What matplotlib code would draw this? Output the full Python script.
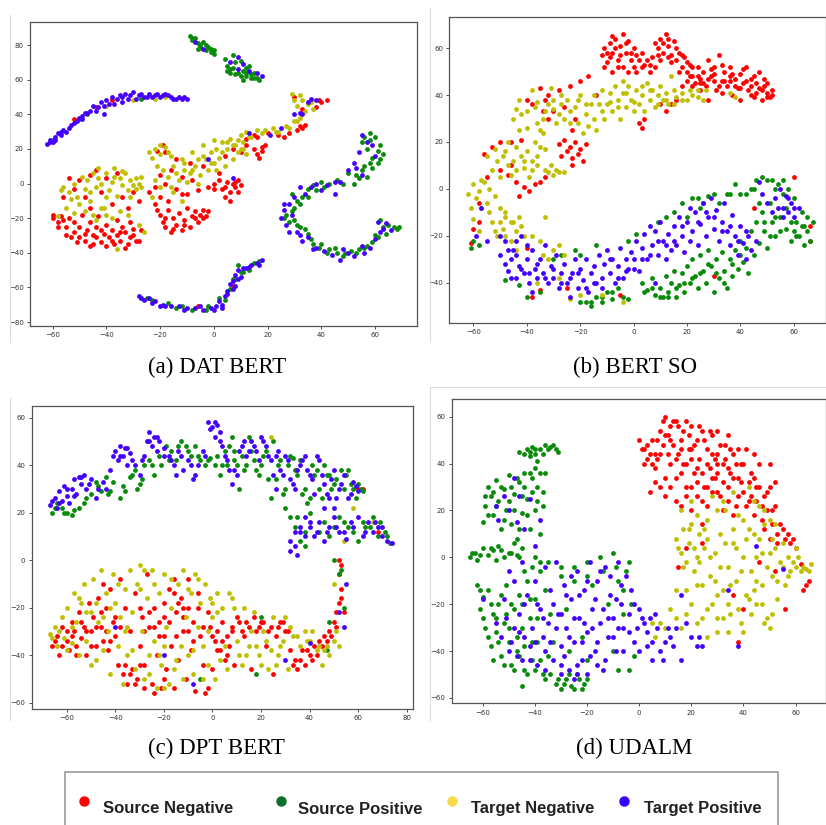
import matplotlib.pyplot as plt
from matplotlib.patches import Rectangle
from matplotlib.lines import Line2D
import numpy as np

# t-SNE の点（図から目で読んだ座標）
# (a) DAT BERT
a_red = [(-60,-18),(-58,-22),(-57,-19),(-55,-25),(-54,-20),(-52,-28),(-52,-22),(-50,-31),(-50,-25),(-49,-18),
         (-48,-33),(-47,-27),(-46,-22),(-45,-35),(-45,-30),(-44,-25),(-43,-19),(-42,-34),(-41,-29),(-40,-36),
         (-40,-24),(-39,-31),(-38,-27),(-37,-35),(-36,-21),(-36,-30),(-35,-33),(-34,-25),(-33,-28),(-32,-35),
         (-31,-22),(-31,-31),(-30,-26),(-29,-33),(-27,-27),(-52,-3),(-50,2),(-48,-8),(-46,5),(-44,8),(-42,-5),
         (-40,3),(-38,-12),(-36,6),(-34,-8),(-32,-14),(-30,-5),(-28,-10),(-56,-8),(-54,3),(-22,-12),(-20,-18),
         (-19,-22),(-18,-25),(-17,-15),(-16,-28),(-15,-20),(-14,-24),(-13,-17),(-12,-27),(-11,-21),(-10,-14),
         (-9,-25),(-8,-19),(-7,-16),(-6,-22),(-5,-18),(-4,-15),(-3,-19),(-20,-8),(-22,-2),(-24,-5),(-20,5),
         (-18,0),(-16,8),(-14,-3),(-12,4),(-10,-6),(-8,2),(-6,-4),(-4,10),(-2,-2),(0,0),(2,2),(3,-3),(5,1),
         (6,-5),(7,0),(8,-2),(9,2),(10,-1),(4,-8),(6,-10),(2,6),(-9,12),(-14,14),(-18,18),(-21,19),(-19,22),
         (4,16),(7,20),(10,18),(12,22),(15,20),(16,17),(17,15),(18,19),(19,22),(12,26),(16,27),(20,29),(26,27),
         (28,29),(31,31),(33,32),(34,34),(30,50),(38,44),(40,47),(42,48),(33,43),(-44,44),(-38,48),(-52,37),
         (-6,-71),(7,-59),
         (-58,-25),(-56,-21),(-53,-31),(-51,-34),(-48,-29),(-46,-36),(-44,-31),(-42,-27),(-38,-33),(-35,-28),
         (-33,-37),(-30,-30),(-28,-33),(-46,-14),(-60,-20),(-55,-30),(-21,-15),(-18,-20),(-15,-26),(-11,-24),
         (-7,-20),(-4,-20),(-2,-16),(0,-3),(4,-2),(8,1),(9,-5),(-17,-10),(-12,-6),(15,28),(24,28),(32,33),
         (39,48),(18,21)]
a_yellow = [(-56,-2),(-54,-5),(-52,0),(-51,-8),(-50,-12),(-48,-3),(-47,2),(-46,-10),(-45,6),(-44,-2),(-43,9),
            (-42,0),(-41,-14),(-40,6),(-39,-4),(-38,1),(-37,9),(-36,-7),(-35,3),(-34,-1),(-33,6),(-32,-4),
            (-31,2),(-30,-1),(-29,3),(-28,0),(-27,4),(-48,-16),(-45,-18),(-42,-14),(-38,-20),(-35,-16),(-32,-18),
            (-28,-24),(-26,-28),(-58,-19),(-55,-14),(-36,-38),(-52,-17),(-22,20),(-20,17),(-18,21),(-16,16),
            (-24,18),(-22,2),(-21,10),(-19,8),(-17,4),(-15,10),(-13,2),(-11,8),(-10,1),(-9,6),(-7,10),(-6,14),
            (-5,5),(-3,14),(-2,8),(-1,18),(0,12),(1,20),(2,15),(3,24),(4,10),(5,20),(6,26),(7,14),(8,22),(9,25),
            (10,20),(11,24),(12,17),(-8,18),(-12,14),(-4,22),(0,25),(-20,-2),(-23,-8),(-15,-5),(-12,-10),(10,28),
            (12,30),(14,27),(16,31),(18,29),(22,32),(24,30),(27,33),(30,36),(32,38),(34,42),(31,45),(29,52),
            (32,51),(35,46),(37,43),(-30,48),(-22,49),(-18,50),(-40,45),
            (-57,-4),(-53,-9),(-49,4),(-46,-5),(-43,3),(-40,-8),(-37,4),(-34,7),(-31,-8),(-29,-3),(-27,-2),
            (-40,-18),(-44,-21),(-23,15),(-20,22),(-17,18),(-14,6),(-11,12),(-8,8),(-4,16),(-1,12),(1,8),(3,18),
            (5,24),(7,22),(9,18),(11,20),(-6,0),(-16,-2),(13,27),(19,31),(23,30),(28,32),(31,36),(33,48),(30,48),
            (36,47)]
a_green = [(-9,85),(-8,83),(-7,84),(-6,81),(-5,80),(-4,82),(-3,77),(-2,79),(-1,76),(0,77),(-6,78),(4,72),(5,68),
           (6,64),(7,67),(8,63),(10,62),(11,65),(12,62),(14,61),(15,64),(17,60),(13,68),(10,71),(7,74),(12,64),
           (16,61),(5,65),(-50,37),(-47,40),(-27,49),(-60,25),(56,27),(58,29),(60,27),(62,22),(63,17),(61,12),
           (59,9),(57,4),(56,10),(59,15),(57,20),(54,3),(50,6),(52,0),(48,0),(43,0),(40,1),(37,-1),(35,-3),
           (33,-8),(31,-10),(30,-14),(27,-18),(28,-22),(30,-21),(32,-25),(34,-26),(36,-32),(37,-35),(40,-35),
           (43,-38),(46,-40),(49,-40),(51,-39),(54,-38),(57,-36),(59,-34),(61,-31),(64,-29),(67,-25),(69,-25),
           (65,-24),(62,-21),(35,-8),(29,-6),(-27,-66),(-23,-67),(-17,-69),(-14,-72),(-8,-73),(-2,-71),(4,-67),
           (6,-61),(8,-55),(11,-51),(13,-50),(15,-46),(17,-45),(9,-47),
           (-8,84),(-5,79),(-3,80),(0,75),(-1,78),(6,66),(9,64),(14,63),(11,60),(15,61),(8,70),(12,67),
           (55,24),(58,25),(61,19),(62,14),(58,12),(55,8),(53,5),(46,2),(41,-2),(38,-4),(32,-12),(29,-16),
           (26,-20),(31,-24),(35,-29),(39,-37),(42,-40),(45,-37),(48,-42),(53,-40),(56,-37),(60,-30),(63,-25),
           (68,-26),(-25,-66),(-12,-71),(-3,-73),(2,-66),(7,-55),(10,-51)]
a_blue = [(-62,23),(-61,25),(-59,27),(-58,29),(-56,31),(-55,30),(-53,34),(-51,36),(-50,38),(-48,41),(-46,42),
          (-45,45),(-43,44),(-42,47),(-40,48),(-38,50),(-37,46),(-35,51),(-33,52),(-32,49),(-30,53),(-28,51),
          (-26,50),(-24,52),(-22,51),(-20,50),(-18,52),(-16,50),(-14,49),(-12,49),(-10,49),(-60,24),(-57,28),
          (-49,39),(-41,40),(-34,47),(-29,49),(-7,82),(-4,78),(6,70),(9,73),(11,69),(13,65),(16,64),(18,62),
          (9,66),(13,29),(21,28),(25,32),(30,40),(33,40),(35,47),(38,48),(-2,14),(7,3),(55,28),(57,24),(54,18),
          (52,12),(50,8),(55,5),(45,1),(42,-1),(38,0),(34,-6),(32,-2),(28,-12),(26,-15),(25,-20),(27,-24),
          (29,-18),(31,-28),(33,-33),(35,-31),(38,-37),(41,-39),(44,-41),(47,-44),(52,-42),(56,-40),(58,-37),
          (61,-22),(63,-26),(66,-27),(60,-32),(48,-38),(45,-6),(40,-4),(-28,-65),(-26,-67),(-24,-66),(-22,-68),
          (-19,-70),(-16,-71),(-13,-71),(-10,-72),(-7,-72),(-4,-73),(-1,-72),(1,-71),(2,-68),(4,-65),(5,-62),
          (6,-58),(7,-56),(8,-53),(9,-50),(10,-54),(12,-49),(14,-47),(16,-46),(18,-44),(-20,-71),(3,-72),(8,-59),
          (-61,24),(-59,25),(-57,30),(-54,32),(-52,35),(-49,37),(-47,41),(-44,42),(-41,45),(-39,46),(-36,49),
          (-34,50),(-31,51),(-27,52),(-25,50),(-23,50),(-21,52),(-19,51),(-17,51),(-15,49),(-13,50),(-11,50),
          (59,22),(60,16),(53,9),(47,1),(36,-2),(30,-8),(26,-12),(28,-28),(32,-30),(37,-38),(50,-40),(55,-36),
          (62,-28),(64,-23),(-27,-66),(-23,-69),(-18,-71),(-11,-73),(-5,-71),(0,-73),(3,-70),(5,-64),(7,-61),
          (9,-55),(11,-49),(13,-48),(17,-47),(32,41),(36,49)]

# (b) BERT SO
b_red = [(-12,57),(-11,60),(-10,54),(-9,62),(-8,58),(-7,64),(-6,55),(-5,61),(-4,66),(-3,58),(-2,63),(-4,52),
         (-1,55),(0,60),(-8,50),(0,52),(2,55),(4,53),(6,50),(8,52),(10,55),(8,62),(9,60),(10,64),(11,58),
         (12,66),(13,61),(14,57),(15,63),(16,55),(17,58),(18,52),(19,56),(20,50),(21,53),(22,48),(23,45),
         (24,52),(25,47),(26,50),(27,44),(28,55),(29,48),(30,52),(31,42),(32,57),(33,46),(34,50),(35,44),
         (36,52),(37,40),(38,47),(39,43),(40,49),(41,45),(42,52),(43,42),(44,47),(45,39),(46,45),(47,43),
         (48,38),(49,44),(50,41),(51,39),(52,42),(50,45),(47,50),(44,40),(40,38),(36,46),(33,41),(30,46),
         (28,38),(25,42),(22,44),(20,46),(18,44),(16,38),(14,36),(12,33),(10,36),(4,30),(2,28),(3,26),
         (-17,48),(-20,46),(-24,44),(-28,42),(-32,40),(-35,43),(-33,38),(-30,33),(-32,30),(-34,33),(-38,36),
         (-40,38),(-26,35),(-14,40),(-22,30),(-23,25),(-28,19),(-26,21),(-25,16),(-24,18),(-23,13),(-22,20),
         (-21,15),(-20,17),(-19,12),(-18,19),(-23,10),(-27,14),(-50,20),(-53,18),(-56,15),(-46,20),(-42,21),
         (-50,8),(-47,6),(-44,3),(-41,1),(-39,-1),(-37,2),(-35,3),(-33,5),(-43,-3),(-46,10),(-55,5),(-58,-6),
         (-60,-17),(-61,-23),(-58,-14),(-40,-25),(-35,-43),(-25,-42),(-5,-45),(45,-8),(60,5),(66,-16),(66,-22),
         (30,-37),(-38,-46),
         (-11,52),(-9,56),(-7,60),(-5,57),(-3,62),(-1,58),(1,57),(3,52),(5,55),(7,56),(9,57),(11,62),(13,64),
         (14,54),(16,60),(18,57),(20,54),(22,52),(24,48),(26,45),(28,47),(30,49),(32,44),(34,46),(36,48),
         (38,44),(40,43),(42,46),(44,44),(46,41),(48,42),(50,39),(52,40),(49,47),(45,48),(41,51),(37,49),
         (33,53),(29,51),(25,45),(21,48),(17,50),(13,56),(-2,50),(-6,52),(1,50),(6,53),(3,58),(-10,58),(-8,65)]
b_yellow = [(-62,-2),(-60,2),(-59,-4),(-58,-1),(-57,-8),(-56,3),(-55,-6),(-54,0),(-53,8),(-52,-3),(-51,12),
            (-50,-8),(-49,14),(-48,-10),(-47,10),(-46,-14),(-45,12),(-44,8),(-43,-12),(-42,14),(-41,9),(-40,16),
            (-39,5),(-38,12),(-37,20),(-36,10),(-35,18),(-34,24),(-33,8),(-32,7),(-30,6),(-28,7),(-26,7),(-55,14),
            (-52,17),(-48,16),(-45,30),(-44,34),(-43,38),(-42,32),(-40,26),(-38,42),(-37,35),(-36,28),(-35,25),
            (-34,30),(-32,36),(-31,43),(-30,38),(-29,28),(-28,32),(-27,40),(-26,30),(-25,38),(-24,33),(-22,35),
            (-21,28),(-20,40),(-19,24),(-18,32),(-17,27),(-16,36),(-15,30),(-14,25),(-13,36),(-12,42),(-11,30),
            (-10,36),(-9,41),(-8,33),(-7,44),(-6,38),(-5,30),(-4,41),(-3,35),(-2,44),(-1,38),(0,33),(1,42),(2,36),
            (3,40),(4,33),(5,45),(6,38),(7,42),(8,35),(9,40),(10,44),(11,38),(12,41),(13,36),(15,42),(16,39),
            (18,41),(20,38),(22,40),(24,42),(26,38),(27,42),(14,48),(36,41),(38,39),(-4,46),(-60,-13),(-58,-18),
            (-52,-18),(-50,-14),(-48,-20),(-46,-22),(-44,-18),(-42,-16),(-38,-20),(-35,-22),(-34,-28),(-32,-30),
            (-30,-26),(-28,-24),(-26,-28),(-44,-26),(-48,-12),(-51,-20),(-33,-12),(-36,-40),(-28,-38),(-20,-45),
            (-12,-45),(-4,-48),(-24,-47),
            (-47,20),(-44,18),(-41,12),(-38,8),(-36,14),(-33,17),(-31,10),(-29,8),(-43,25),(-40,33),(-36,37),
            (-33,33),(-30,34),(-27,36),(-24,28),(-21,38),(-18,36),(-15,40),(-12,33),(-9,37),(-6,35),(-3,41),
            (0,37),(3,44),(6,42),(9,36),(12,38),(15,36),(18,38),(21,42),(24,39),(-61,-8),(-57,4),(-54,-10),
            (-50,5),(-46,6),(-53,-14),(-49,-17),(-45,-14),(-41,-20)]
b_green = [(-60,-22),(-61,-25),(-58,-24),(-48,-39),(-43,-41),(-40,-46),(-35,-44),(-30,-30),(-27,-28),(-22,-26),
           (-20,-28),(-18,-48),(-16,-50),(-14,-46),(-12,-48),(-10,-44),(-8,-47),(-6,-42),(-4,-46),(-2,-47),
           (-14,-24),(-2,-22),(1,-19),(3,-40),(5,-43),(7,-38),(8,-45),(10,-42),(11,-46),(12,-37),(13,-44),
           (14,-40),(15,-35),(16,-46),(17,-41),(18,-36),(19,-44),(20,-33),(21,-40),(22,-30),(23,-37),(24,-42),
           (25,-28),(26,-35),(27,-40),(28,-26),(29,-33),(30,-44),(31,-30),(32,-38),(33,-27),(34,-35),(35,-42),
           (36,-30),(37,-37),(38,-26),(39,-34),(40,-22),(41,-31),(42,-25),(43,-36),(44,-18),(45,-28),(46,-14),
           (47,-23),(48,-10),(49,-18),(50,-25),(51,-6),(52,-14),(53,-20),(54,2),(55,-12),(56,4),(57,-17),
           (58,0),(59,-22),(60,-18),(61,-14),(62,-20),(63,-10),(64,-16),(65,-12),(66,-22),(67,-14),(64,-24),
           (38,2),(42,-2),(44,0),(46,4),(48,5),(52,4),(35,-2),(32,-6),(30,-2),(28,-3),(25,-8),(22,-4),(18,-6),
           (15,-10),(12,-12),(9,-14),
           (45,0),(47,-6),(49,-14),(51,-20),(53,-12),(55,-18),(57,-8),(59,-14),(61,-20),(63,-16),(65,-18),
           (50,4),(53,0),(56,-2),(60,-4),(40,-28),(37,-32),(34,-40),(31,-36),(28,-32),(25,-36),(22,-38),(19,-40),
           (16,-42),(13,-46),(10,-46),(7,-42),(4,-44),(-8,-44),(-12,-46),(-16,-48),(-20,-48),(36,-2),(40,-2),
           (20,-12),(24,-4),(26,-6)]
b_blue = [(-50,-28),(-48,-22),(-47,-35),(-46,-30),(-45,-26),(-44,-38),(-43,-33),(-42,-20),(-41,-36),(-40,-30),
          (-39,-40),(-38,-26),(-37,-34),(-36,-38),(-35,-30),(-34,-36),(-33,-24),(-32,-40),(-31,-33),(-30,-38),
          (-29,-28),(-28,-42),(-27,-36),(-26,-32),(-25,-40),(-24,-46),(-23,-36),(-22,-30),(-21,-42),(-20,-34),
          (-19,-39),(-18,-30),(-17,-44),(-16,-36),(-15,-33),(-14,-40),(-13,-28),(-12,-38),(-11,-32),(-10,-26),
          (-9,-36),(-8,-30),(-7,-40),(-6,-33),(-5,-25),(-4,-38),(-3,-30),(-2,-34),(-1,-27),(0,-30),(1,-22),
          (2,-35),(3,-25),(4,-19),(5,-30),(6,-16),(7,-24),(8,-18),(9,-28),(10,-14),(11,-22),(12,-30),(13,-19),
          (14,-26),(15,-16),(16,-24),(17,-12),(18,-20),(19,-27),(20,-14),(21,-8),(22,-18),(23,-10),(24,-24),
          (25,-15),(26,-6),(27,-20),(28,-12),(29,-4),(30,-17),(31,-9),(32,-22),(33,-14),(34,-6),(35,-18),
          (36,-24),(37,-11),(38,-20),(39,-28),(40,-16),(41,-23),(42,-30),(43,-20),(48,-2),(50,-6),(52,-10),
          (53,-4),(55,0),(56,-8),(57,-3),(58,-10),(59,-6),(60,-12),(62,-8),(47,3),(-50,-20),(-48,-32),(-55,-22),
          (-57,-8),(-59,-20),(-44,-28),(-38,-44),(8,-40),
          (-46,-38),(-42,-34),(-39,-36),(-36,-32),(-33,-38),(-30,-34),(-27,-40),(-24,-38),(-21,-36),(-18,-42),
          (-15,-40),(-12,-42),(-9,-30),(-6,-38),(-3,-35),(0,-34),(3,-30),(6,-28),(9,-22),(12,-24),(15,-22),
          (18,-16),(21,-22),(24,-14),(27,-10),(30,-12),(33,-18),(36,-16),(39,-22),(42,-18),(44,-26),(46,-22),
          (54,-8),(56,-12),(58,-4),(60,-8),(-47,-26),(-44,-22),(-40,-24)]

# (c) DPT BERT
c_red = [(-66,-36),(-64,-32),(-63,-40),(-62,-28),(-60,-34),(-59,-38),(-58,-26),(-57,-30),(-56,-36),(-55,-22),
         (-54,-33),(-53,-28),(-52,-40),(-51,-18),(-50,-30),(-49,-24),(-48,-36),(-47,-16),(-46,-28),(-45,-34),
         (-44,-20),(-43,-38),(-42,-12),(-41,-26),(-40,-32),(-39,-44),(-38,-8),(-37,-48),(-36,-20),(-35,-52),
         (-34,-30),(-33,-46),(-32,-14),(-31,-50),(-30,-36),(-29,-24),(-28,-44),(-27,-6),(-26,-28),(-25,-52),
         (-24,-20),(-23,-40),(-22,-26),(-21,-54),(-20,-32),(-19,-46),(-18,-12),(-17,-36),(-16,-8),(-15,-22),
         (-14,-42),(-13,-16),(-12,-30),(-11,-50),(-10,-20),(-9,-38),(-8,-26),(-7,-55),(-6,-14),(-5,-32),
         (-4,-44),(-3,-56),(-2,-22),(-1,-28),(0,-46),(1,-34),(2,-30),(3,-38),(4,-26),(5,-42),(6,-32),(7,-36),
         (8,-28),(9,-44),(10,-24),(12,-30),(14,-26),(16,-46),(18,-30),(20,-26),(22,-36),(24,-28),(25,-48),
         (26,-32),(28,-26),(30,-30),(32,-38),(34,-42),(35,-46),(37,-38),(38,-44),(40,-40),(42,-36),(44,-34),
         (46,-32),(48,-30),(50,-26),(52,-18),(53,-12),(54,-22),(52,-6),(53,-2),(52,0),(60,30),(62,30),(68,12),
         (-45,-10),(-30,-20),(-15,-32),(-10,-8),
         (-65,-34),(-62,-36),(-60,-30),(-58,-32),(-56,-40),(-54,-26),(-52,-30),(-50,-36),(-48,-28),(-46,-22),
         (-44,-30),(-42,-34),(-40,-24),(-38,-28),(-36,-44),(-34,-48),(-32,-52),(-30,-44),(-28,-30),(-26,-22),
         (-24,-28),(-22,-32),(-20,-18),(-18,-26),(-16,-14),(-14,-18),(-12,-24),(-10,-30),(-8,-34),(-6,-20),
         (-4,-28),(-2,-54),(0,-32),(2,-38),(4,-34),(6,-40),(8,-30),(11,-26),(13,-32),(15,-28),(17,-24),(19,-28),
         (21,-26),(23,-30),(27,-28),(29,-26),(31,-30),(33,-44),(36,-42),(39,-38),(41,-42),(43,-40),(45,-36),
         (47,-34),(49,-32),(51,-22),(53,-16),(51,-28),(-28,-54),(-24,-56),(-20,-50),(-16,-54),(-12,-20),(-20,-24)]
c_yellow = [(-67,-31),(-65,-28),(-64,-36),(-62,-24),(-61,-33),(-60,-20),(-58,-35),(-57,-14),(-56,-26),(-55,-40),
            (-54,-18),(-53,-10),(-52,-34),(-50,-22),(-49,-8),(-48,-42),(-47,-26),(-46,-4),(-45,-38),(-44,-14),
            (-43,-30),(-42,-48),(-41,-6),(-40,-18),(-39,-36),(-38,-24),(-37,-52),(-36,-12),(-35,-40),(-34,-4),
            (-33,-22),(-32,-46),(-31,-10),(-30,-2),(-29,-30),(-28,-50),(-27,-16),(-26,-40),(-25,-4),(-24,-34),
            (-23,-54),(-22,-14),(-21,-44),(-20,-6),(-19,-28),(-18,-52),(-17,-20),(-16,-46),(-14,-10),(-13,-36),
            (-12,-4),(-11,-24),(-10,-40),(-9,-14),(-8,-48),(-7,-6),(-6,-28),(-5,-18),(-4,-36),(-3,-10),(-2,-44),
            (-1,-16),(0,-24),(1,-50),(2,-14),(3,-42),(4,-20),(6,-46),(8,-16),(10,-34),(11,-40),(13,-20),(15,-36),
            (17,-22),(19,-40),(21,-30),(23,-46),(25,-24),(27,-40),(29,-34),(31,-46),(33,-32),(36,-36),(39,-34),
            (41,-30),(43,-38),(45,-44),(47,-36),(50,-10),(51,-30),(54,8),(30,-24),(58,22),(66,16),(24,52),
            (-20,-36),(-35,-28),
            (-66,-33),(-63,-30),(-60,-38),(-58,-28),(-55,-16),(-52,-22),(-50,-44),(-48,-18),(-45,-24),(-42,-20),
            (-39,-10),(-36,-30),(-33,-38),(-30,-12),(-28,-4),(-26,-48),(-24,-10),(-22,-40),(-20,-54),(-17,-8),
            (-15,-42),(-12,-50),(-10,-12),(-8,-38),(-6,-8),(-4,-50),(-2,-30),(0,-18),(2,-22),(5,-36),(7,-14),
            (9,-20),(12,-44),(14,-40),(16,-30),(18,-36),(20,-44),(22,-34),(24,-38),(26,-44),(28,-36),(32,-28),
            (35,-32),(38,-30),(40,-34),(44,-36),(46,-38),(48,-40),(50,-34),(52,-36)]
c_green = [(-66,20),(-64,24),(-62,22),(-60,20),(-58,19),(-55,22),(-53,24),(-50,28),(-48,33),(-46,29),(-44,35),
           (-43,28),(-41,33),(-38,26),(-36,29),(-34,35),(-32,38),(-31,30),(-29,34),(-28,40),(-26,42),(-24,36),
           (-21,40),(-19,48),(-17,46),(-15,42),(-13,50),(-11,48),(-9,44),(-7,48),(-5,42),(-3,40),(-1,43),(1,40),
           (3,36),(5,46),(6,40),(8,52),(9,46),(10,40),(11,30),(13,38),(15,52),(17,42),(19,36),(21,44),(23,34),
           (24,26),(25,50),(27,40),(29,28),(31,40),(33,43),(35,36),(37,28),(39,24),(41,40),(43,38),(45,26),
           (47,36),(49,30),(51,34),(53,38),(55,36),(57,32),(59,26),(61,30),(30,22),(32,18),(34,14),(36,8),(38,6),
           (40,20),(44,12),(48,10),(52,18),(56,14),(60,8),(63,14),(66,18),(69,16),(71,12),(73,7),(50,0),(52,-6),
           (48,-26),(47,-38),(20,-24),(18,-48),(-5,-50),
           (-65,22),(-61,20),(-57,21),(-52,26),(-47,31),(-42,29),(-37,31),(-33,36),(-30,32),(-25,40),(-22,44),
           (-18,42),(-14,48),(-10,46),(-6,44),(-2,42),(2,44),(4,40),(7,48),(9,42),(12,44),(14,40),(16,46),
           (18,38),(20,40),(22,46),(26,34),(28,42),(30,30),(32,44),(34,38),(36,42),(38,30),(40,26),(42,36),
           (44,30),(46,40),(48,36),(50,32),(54,30),(56,38),(58,30),(60,32),(62,29),(35,18),(38,12),(46,16),
           (50,14),(54,16),(58,12),(62,16),(65,14),(68,10),(72,10),(53,-4),(54,-20)]
c_blue = [(-67,23),(-65,26),(-64,22),(-63,29),(-62,25),(-61,31),(-60,27),(-59,24),(-58,30),(-57,34),(-56,28),
          (-55,35),(-54,32),(-53,36),(-52,30),(-50,34),(-48,26),(-47,30),(-45,33),(-42,38),(-40,46),(-39,42),
          (-38,48),(-37,44),(-36,47),(-35,40),(-34,45),(-33,42),(-30,36),(-28,44),(-27,50),(-26,54),(-25,48),
          (-24,52),(-23,46),(-22,50),(-20,47),(-18,44),(-16,40),(-15,36),(-14,46),(-12,38),(-10,42),(-8,34),
          (-6,40),(-4,46),(-2,58),(0,56),(1,52),(2,57),(3,50),(4,48),(5,44),(7,38),(8,32),(10,36),(12,48),
          (14,44),(16,50),(18,46),(20,52),(22,48),(24,42),(25,36),(26,30),(27,46),(28,38),(30,44),(32,34),
          (34,30),(36,40),(38,44),(40,36),(42,28),(44,42),(46,32),(48,26),(50,38),(52,30),(54,36),(56,26),
          (58,33),(60,29),(38,18),(40,14),(36,12),(34,6),(32,4),(35,2),(42,10),(44,16),(46,8),(48,14),(50,18),
          (52,12),(55,9),(58,14),(60,18),(62,10),(64,16),(66,12),(68,14),(70,10),(72,8),(74,7),(50,22),(46,22),
          (55,-10),(52,-22),(54,-28),(40,-35),(30,-42),(-8,-52),(-20,-40),(-40,-28),
          (-66,25),(-63,24),(-60,30),(-57,27),(-54,35),(-51,32),(-44,30),(-41,44),(-38,44),(-35,47),(-32,40),
          (-29,42),(-26,50),(-23,52),(-20,44),(-17,42),(-13,44),(-9,40),(-7,36),(-3,44),(-1,55),(1,58),(3,54),
          (6,42),(9,38),(11,46),(13,50),(15,46),(17,48),(19,42),(21,50),(23,44),(26,44),(29,36),(31,42),(33,32),
          (35,38),(37,42),(39,38),(41,34),(43,44),(45,36),(47,28),(49,34),(51,26),(53,32),(57,28),(59,31),
          (36,14),(38,10),(40,16),(43,12),(47,12),(51,14),(54,12),(57,16),(63,12),(67,16),(70,14),(32,8),(34,12)]

# (d) UDALM
d_red = [(0,50),(2,46),(3,42),(4,44),(5,40),(6,38),(7,50),(8,54),(9,58),(10,60),(11,52),(12,56),(13,48),(14,58),
         (15,44),(16,50),(17,54),(18,40),(19,46),(20,56),(21,36),(22,50),(23,42),(24,54),(25,30),(26,46),(27,38),
         (28,52),(29,34),(30,44),(31,26),(32,40),(33,48),(34,30),(35,36),(36,44),(37,22),(38,34),(39,40),(40,28),
         (41,46),(42,24),(43,36),(44,18),(45,30),(46,40),(47,22),(48,12),(49,28),(50,8),(51,20),(52,32),(53,10),
         (55,12),(57,10),(59,8),(60,4),(62,-3),(64,-12),(65,-10),(63,-14),(4,28),(8,30),(10,26),(14,34),(16,22),
         (18,30),(20,20),(22,26),(24,14),(26,22),(12,40),(8,44),(28,28),(30,54),(34,52),(38,46),(44,44),(50,40),
         (18,4),(24,6),(36,-16),(40,-22),(46,-2),(52,-6),(56,-22),(38,-36),(30,40),(20,46),(15,-4),
         (1,46),(3,48),(5,50),(6,44),(7,42),(9,48),(10,52),(11,44),(12,50),(13,58),(14,42),(15,56),(16,46),
         (17,40),(18,58),(19,52),(20,42),(21,48),(22,38),(23,56),(24,36),(25,50),(26,40),(27,54),(28,44),
         (29,42),(30,36),(31,48),(32,32),(33,42),(34,38),(35,46),(36,34),(37,40),(38,26),(39,32),(40,40),
         (41,22),(42,32),(43,26),(44,34),(45,24),(46,30),(47,16),(48,26),(49,20),(50,30),(51,14),(52,22),
         (53,6),(54,14),(56,8),(58,6),(10,34),(12,30),(14,24),(16,36),(18,26),(20,30),(22,32),(24,24),(26,30),
         (28,34),(30,28),(32,20),(34,24),(36,18),(6,32),(2,40)]
d_yellow = [(14,8),(16,2),(17,12),(18,-2),(19,6),(20,14),(21,-6),(22,0),(23,10),(24,-12),(25,4),(26,16),(27,-8),
            (28,-20),(29,2),(30,-26),(31,10),(32,-14),(33,20),(34,-4),(35,-24),(36,6),(37,-10),(38,18),(39,-28),
            (40,0),(41,-16),(42,12),(43,-6),(44,24),(45,-20),(46,8),(47,-12),(48,20),(49,-26),(50,2),(51,-8),
            (52,14),(53,-18),(54,-2),(55,6),(56,-12),(57,0),(58,-6),(60,-4),(62,-6),(64,-5),(66,-3),(60,4),
            (48,-28),(50,-30),(44,-14),(40,-32),(20,-20),(22,-28),(18,-24),(14,-26),(26,-34),(30,-32),(10,-30),
            (6,-34),(8,-28),(28,26),(32,24),(36,28),(42,30),(46,22),(50,16),(20,24),(16,20),(14,-14),(24,-26),
            (34,-32),(5,-28),
            (15,4),(17,-4),(19,12),(21,4),(23,-2),(25,12),(27,0),(29,-10),(31,-4),(33,6),(35,-12),(37,4),(39,-6),
            (41,8),(43,-24),(45,0),(47,2),(49,-4),(51,8),(53,-10),(55,-4),(57,-8),(59,-2),(61,0),(63,-4),(65,-6),
            (47,-20),(51,-24),(45,-10),(42,-18),(38,-22),(34,-20),(30,-16),(26,-22),(22,-12),(18,-14),(36,12),
            (40,16),(44,10),(48,14),(52,4),(30,20),(26,8),(22,18),(12,-22),(16,-30),(32,-26)]
d_green = [(-65,0),(-63,2),(-62,-1),(-60,4),(-58,1),(-56,3),(-54,5),(-52,0),(-50,2),(-48,6),(-47,1),(-45,4),
           (-60,15),(-59,22),(-58,30),(-57,26),(-56,18),(-55,33),(-54,24),(-53,12),(-52,29),(-51,20),(-50,35),
           (-49,14),(-48,27),(-47,8),(-46,32),(-45,19),(-44,36),(-43,25),(-42,12),(-41,34),(-40,20),(-39,30),
           (-38,10),(-37,22),(-36,36),(-43,46),(-42,43),(-41,47),(-40,44),(-38,46),(-36,48),(-34,47),(-32,46),
           (-31,45),(-39,41),(-44,44),(-46,45),(-40,0),(-41,-4),(-44,-6),(-38,-2),(-62,-12),(-61,-22),(-60,-17),
           (-59,-30),(-58,-14),(-57,-38),(-56,-24),(-55,-32),(-54,-20),(-53,-42),(-52,-28),(-51,-12),(-50,-36),
           (-49,-46),(-48,-22),(-47,-40),(-46,-16),(-45,-30),(-44,-48),(-43,-10),(-42,-26),(-41,-44),(-40,-18),
           (-39,-36),(-38,-6),(-37,-50),(-36,-14),(-35,-42),(-34,-24),(-32,-54),(-30,-56),(-28,-52),(-26,-55),
           (-24,-50),(-22,-56),(-20,-52),(-35,-2),(-30,-8),(-25,-4),(-20,-2),(-15,0),(-10,2),(-5,-6),(-6,-14),
           (-12,-20),(-18,-12),(-28,-22),(-22,-34),(-2,-42),(-4,-48),(-33,-36),(-27,-40),(-20,-44),(-45,-55),
           (-8,-10),(-3,-20),
           (-64,2),(-61,1),(-57,4),(-55,-1),(-53,3),(-49,2),(-46,0),(-59,26),(-58,18),(-56,28),(-55,22),(-53,30),
           (-52,16),(-50,24),(-49,30),(-48,20),(-47,34),(-46,12),(-45,26),(-44,30),(-43,18),(-42,36),(-41,28),
           (-40,38),(-39,24),(-38,36),(-37,28),(-37,44),(-35,46),(-33,48),(-40,46),(-42,45),(-61,-14),(-60,-26),
           (-58,-34),(-57,-20),(-56,-44),(-55,-26),(-54,-36),(-53,-16),(-52,-46),(-51,-24),(-50,-30),(-49,-20),
           (-48,-48),(-47,-34),(-46,-42),(-45,-20),(-44,-38),(-43,-50),(-42,-18),(-41,-36),(-40,-48),(-39,-26),
           (-38,-44),(-36,-52),(-34,-50),(-31,-52),(-29,-54),(-27,-50),(-25,-56),(-23,-52),(-21,-54),(-30,-4),
           (-25,-10),(-20,-8),(-14,-6),(-9,-4),(-4,-2),(-6,-24),(-10,-40),(-8,-48)]
d_blue = [(-55,-28),(-52,-18),(-50,-40),(-48,-30),(-46,-24),(-45,-44),(-44,-34),(-43,-16),(-42,-38),(-41,-30),
          (-40,-10),(-39,-46),(-38,-22),(-37,-34),(-36,-4),(-35,-28),(-34,-14),(-33,-44),(-32,-2),(-31,-24),
          (-30,-38),(-29,-12),(-28,-30),(-27,-48),(-26,-18),(-25,-36),(-24,-6),(-23,-26),(-22,-44),(-21,-14),
          (-20,-32),(-19,-2),(-18,-22),(-17,-40),(-16,-10),(-15,-28),(-14,-48),(-13,-4),(-12,-34),(-11,-16),
          (-10,-26),(-9,-40),(-8,-2),(-7,-20),(-6,-30),(-5,-8),(-4,-24),(-3,-14),(-2,-36),(-1,-30),(0,-22),
          (2,-28),(3,-38),(4,-26),(5,-44),(6,-24),(8,-40),(10,-36),(12,-34),(14,-30),(16,-44),(18,-28),(22,-38),
          (23,-34),(24,-38),(16,-16),(34,-14),(38,-38),(45,5),(55,-5),(-55,22),(-50,20),(-47,15),(-42,25),
          (-40,5),(-45,-2),(-52,26),(-48,34),(-20,-50),(-25,-52),(-60,-18),(-30,-50),
          (-53,-34),(-51,-26),(-49,-36),(-47,-42),(-46,-32),(-44,-20),(-42,-44),(-40,-36),(-39,-20),(-37,-26),
          (-36,-40),(-34,-36),(-33,-20),(-32,-30),(-30,-24),(-29,-42),(-28,-16),(-27,-34),(-26,-8),(-25,-26),
          (-24,-46),(-23,-16),(-22,-36),(-21,-28),(-20,-10),(-19,-42),(-18,-30),(-17,-18),(-16,-36),(-15,-6),
          (-14,-22),(-13,-44),(-12,-26),(-11,-8),(-10,-34),(-9,-18),(-8,-30),(-7,-12),(-6,-40),(-4,-32),
          (-2,-20),(0,-40),(1,-26),(3,-32),(5,-36),(7,-30),(9,-44),(11,-30),(13,-38),(20,-34),(-36,-48),
          (-30,-46),(-24,-50),(-16,-46),(-50,-6),(-48,-10),(-44,12),(-46,26),(-38,16),(-54,16)]

labels = ['Source Negative', 'Source Positive', 'Target Negative', 'Target Positive']
captions = ['(a) DAT BERT', '(b) BERT SO', '(c) DPT BERT', '(d) UDALM']

panels = [
    [a_red, a_green, a_yellow, a_blue],
    [b_red, b_green, b_yellow, b_blue],
    [c_red, c_green, c_yellow, c_blue],
    [d_red, d_green, d_yellow, d_blue],
]

# 点の色と凡例の色
pt_colors = ['#ff0000', '#0a8a0a', '#bfbf00', '#4400ff']
lg_colors = ['#ff0000', '#0b6e2c', '#f8d94c', '#3a00ff']

# 各パネルの位置 [left, bottom, width, height] と軸範囲
rects = [[0.0363, 0.6048, 0.4685, 0.3685],
         [0.5440, 0.6088, 0.4555, 0.3702],
         [0.0384, 0.1406, 0.4620, 0.3673],
         [0.5468, 0.1475, 0.4527, 0.3685]]
xlims = [(-68.4, 75.6), (-69, 71.9), (-74.4, 82.7), (-71.9, 71.5)]
ylims = [(-82.3, 93.3), (-57, 73.1), (-62.7, 64.9), (-62.3, 67.4)]
xticks = [np.arange(-60, 61, 20), np.arange(-60, 61, 20), np.arange(-60, 81, 20), np.arange(-60, 61, 20)]
yticks = [np.arange(-80, 81, 20), np.arange(-40, 61, 20), np.arange(-60, 61, 20), np.arange(-60, 61, 20)]
cap_pos = [(0.2627, 0.554), (0.769, 0.554), (0.2627, 0.0933), (0.7676, 0.0933)]

fig = plt.figure(figsize=(8.26, 8.25), dpi=100)

# スクリーンショットの薄い枠線
for x0, y0, y1 in [(10/826, 1-342/825, 1-15/825), (430/826, 1-342/825, 1-8/825),
                   (10/826, 1-720/825, 1-398/825), (430/826, 1-720/825, 1-387/825)]:
    fig.add_artist(Line2D([x0, x0], [y0, y1], color='#dcdcdc', lw=0.8))
fig.add_artist(Line2D([430/826, 1.0], [1-387/825, 1-387/825], color='#dcdcdc', lw=0.8))

for i in range(4):
    ax = fig.add_axes(rects[i])
    for pts, col in zip(panels[i], pt_colors):
        arr = np.array(pts, dtype=float)
        ax.scatter(arr[:, 0], arr[:, 1], s=12, c=col, linewidths=0)
    ax.set_xlim(xlims[i])
    ax.set_ylim(ylims[i])
    ax.set_xticks(xticks[i])
    ax.set_yticks(yticks[i])
    ax.tick_params(labelsize=5, length=2.5, width=0.6, pad=2, colors='#333333')
    for sp in ax.spines.values():
        sp.set_color('#555555')
        sp.set_linewidth(0.9)
    fig.text(cap_pos[i][0], cap_pos[i][1], captions[i], ha='center', va='center',
             family='Liberation Serif', fontsize=16.5)

# 下の凡例ボックス
fig.add_artist(Rectangle((65/826, -0.02), (778-65)/826, 0.02 + (825-772)/825,
                         transform=fig.transFigure, fill=False, edgecolor='#9a9a9a', lw=1.2))
dot_x = [84, 281, 452, 624]
txt_x = [103, 298, 471, 644]
for k in range(4):
    fig.add_artist(Line2D([dot_x[k]/826], [1-801/825], marker='o', markersize=6.5,
                          color=lg_colors[k], linestyle='none'))
    fig.text(txt_x[k]/826, 1-809/825, labels[k], ha='left', va='center',
             family='Liberation Sans', fontweight='bold', fontsize=12, color='#222222')

plt.savefig('out.png', dpi=100)
